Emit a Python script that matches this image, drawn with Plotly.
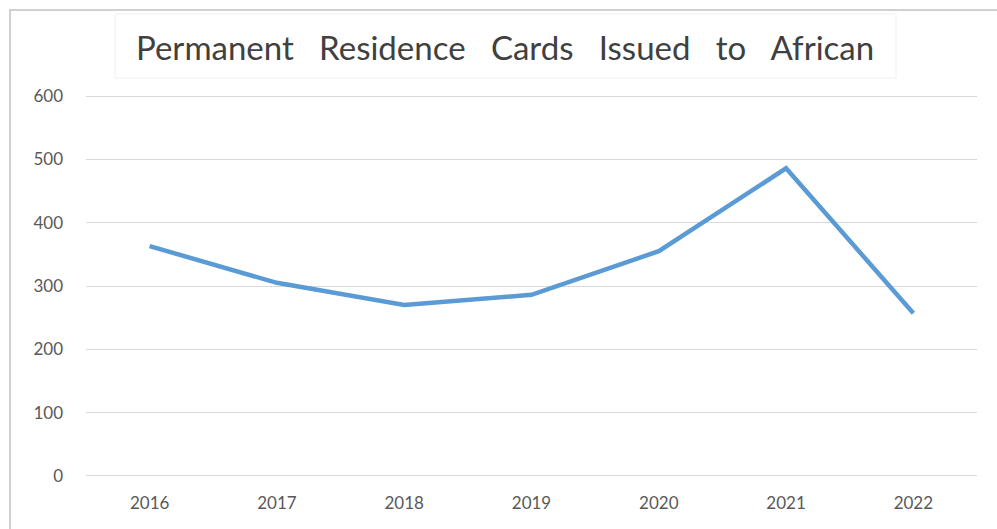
import plotly.graph_objects as go

years = ["2016", "2017", "2018", "2019", "2020", "2021", "2022"]
cards = [363, 305, 270, 286, 355, 486, 257]
y_ticks = [0, 100, 200, 300, 400, 500, 600]
title_text = "Permanent Residence Cards Issued to African"

W, H = 997, 529
L, R, T, B = 86, 20, 93, 50
pw, ph = W - L - R, H - T - B

def px(x):
    return (x - L) / pw

def py(y):
    return (H - B - y) / ph

fig = go.Figure()
fig.add_trace(go.Scatter(
    x=years, y=cards, mode="lines",
    line=dict(color="#5B9BD5", width=4.5),
    hoverinfo="x+y",
))

fig.update_layout(
    width=W, height=H,
    margin=dict(l=L, r=R, t=T, b=B, autoexpand=False),
    paper_bgcolor="white", plot_bgcolor="white",
    showlegend=False,
    font=dict(family="Lato, Open Sans, sans-serif", color="#595959"),
    xaxis=dict(type="category", range=[-0.5, len(years) - 0.5], automargin=False,
               showgrid=False, zeroline=False, showline=False,
               ticks="", tickfont=dict(size=17, color="#595959"), ticklabelstandoff=12),
    yaxis=dict(range=[-5, 605], tickvals=y_ticks, ticktext=[str(v) for v in y_ticks],
               automargin=False,
               showgrid=True, gridcolor="#D9D9D9", gridwidth=1,
               zeroline=True, zerolinecolor="#D9D9D9", zerolinewidth=1,
               showline=False, ticks="", tickfont=dict(size=17, color="#595959"),
               ticklabelstandoff=22),
    shapes=[
        dict(type="rect", xref="paper", yref="paper",
             x0=px(10), x1=px(1010), y0=py(540), y1=py(10),
             line=dict(color="#D0D0D0", width=2), fillcolor="rgba(0,0,0,0)", layer="below"),
        dict(type="rect", xref="paper", yref="paper",
             x0=px(115), x1=px(896), y0=py(78), y1=py(14),
             line=dict(color="#F0F0F0", width=1), fillcolor="rgba(0,0,0,0)", layer="below"),
    ],
    annotations=[dict(
        text=title_text.replace(" ", "\u00a0\u00a0\u00a0"), xref="paper", yref="paper",
        x=px(505), y=py(47), xanchor="center", yanchor="middle", showarrow=False,
        font=dict(size=33, color="#404040", family="Lato, Open Sans, sans-serif"),
    )],
)

fig.write_html("out.html", config={"displayModeBar": False},
               post_script="document.body.style.margin='0';document.body.style.overflow='hidden';")
